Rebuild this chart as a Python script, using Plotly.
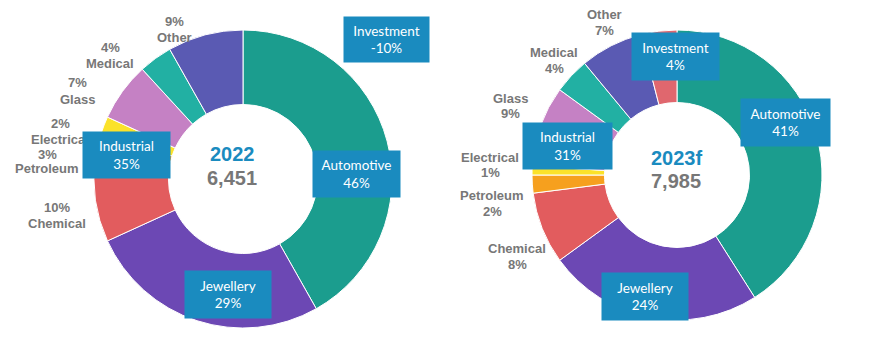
import plotly.graph_objects as go

W, H = 876, 351

# ---------------- data ----------------
labels_2022 = ["Automotive", "Jewellery", "Chemical", "Petroleum", "Electrical", "Glass", "Medical", "Other"]
values_2022 = [46, 29, 10, 3, 2, 7, 4, 9]
investment_2022 = -10
industrial_2022 = 35
total_2022 = "6,451"

labels_2023 = ["Automotive", "Jewellery", "Chemical", "Petroleum", "Electrical", "Glass", "Medical", "Other", "Investment"]
values_2023 = [41, 24, 8, 2, 1, 9, 4, 7, 4]
industrial_2023 = 31
total_2023 = "7,985"

colour_map = {
    "Automotive": "#1b9d8e",
    "Jewellery": "#6c48b4",
    "Chemical": "#e25c5e",
    "Petroleum": "#f6a01e",
    "Electrical": "#fbe22a",
    "Glass": "#c581c4",
    "Medical": "#22b0a3",
    "Other": "#5a5ab3",
    "Investment": "#e0676e",
}

BOX = "#1a8bbf"
GREY = "#777777"


def px(x):
    return x / W


def py(y):
    return 1 - y / H


def dom(cx, cy, r):
    return dict(x=[px(cx - r), px(cx + r)], y=[py(cy + r), py(cy - r)])


fig = go.Figure()
fig.add_trace(go.Pie(
    labels=labels_2022, values=values_2022, sort=False, direction="clockwise",
    hole=0.5, textinfo="none", hoverinfo="label+value",
    marker=dict(colors=[colour_map[l] for l in labels_2022], line=dict(color="white", width=1)),
    domain=dom(243, 179, 149), showlegend=False,
))
fig.add_trace(go.Pie(
    labels=labels_2023, values=values_2023, sort=False, direction="clockwise",
    hole=0.5, textinfo="none", hoverinfo="label+value",
    marker=dict(colors=[colour_map[l] for l in labels_2023], line=dict(color="white", width=1)),
    domain=dom(677, 175, 145), showlegend=False,
))

ann = []
LBL_FONT = dict(family="Liberation Sans, Arial", size=13, color=GREY)
COMMON = dict(xref="paper", yref="paper", showarrow=False, xanchor="center", yanchor="middle")


def label(x, y, text):
    ann.append(dict(x=px(x), y=py(y), text=f"<b>{text}</b>", font=LBL_FONT, **COMMON))


# outside grey labels (left: pct above name, right: name above pct)
v22 = dict(zip(labels_2022, values_2022))
v23 = dict(zip(labels_2023, values_2023))
# name: (x, y of first line, y of second line)
left_pos = {
    "Other": (174, 22, 38),
    "Medical": (110, 48, 64),
    "Glass": (77, 83, 99),
    "Electrical": (60, 124, 139),
    "Petroleum": (47, 154, 169),
    "Chemical": (57, 207, 223),
}
for name, (x, y1, y2) in left_pos.items():
    label(x, y1, f"{v22[name]}%")
    label(x, y2, name)
right_pos = {
    "Other": (604, 15, 31),
    "Medical": (554, 52, 68),
    "Glass": (510, 98, 114),
    "Electrical": (490, 157, 173),
    "Petroleum": (492, 195, 211),
    "Chemical": (517, 248, 264),
}
for name, (x, y1, y2) in right_pos.items():
    label(x, y1, name)
    label(x, y2, f"{v23[name]}%")

# blue boxes
boxes = [
    ("Investment", f"{investment_2022}%", 344, 17, 429, 62),
    ("Industrial", f"{industrial_2022}%", 83, 132, 170, 178),
    ("Automotive", f"{v22['Automotive']}%", 313, 151, 400, 197),
    ("Jewellery", f"{v22['Jewellery']}%", 185, 271, 271, 318),
    ("Investment", f"{v23['Investment']}%", 632, 33, 719, 80),
    ("Industrial", f"{industrial_2023}%", 523, 123, 612, 169),
    ("Automotive", f"{v23['Automotive']}%", 741, 99, 830, 146),
    ("Jewellery", f"{v23['Jewellery']}%", 602, 273, 688, 320),
]
for name, pct, x0, y0, x1, y1 in boxes:
    ann.append(dict(x=px((x0 + x1) / 2), y=py((y0 + y1) / 2), text=f"{name}<br>{pct}",
                    align="center", width=x1 - x0, height=y1 - y0, bgcolor=BOX, borderpad=0,
                    font=dict(family="Lato, Open Sans", size=13.5, color="white"), **COMMON))

# centre texts
centres = [("2022", total_2022, 232, 154, 178), ("2023f", total_2023, 676, 158, 181)]
for yr, tot, x, y1, y2 in centres:
    ann.append(dict(x=px(x), y=py(y1), text=f"<b>{yr}</b>",
                    font=dict(family="Liberation Sans, Arial", size=20, color=BOX), **COMMON))
    ann.append(dict(x=px(x), y=py(y2), text=f"<b>{tot}</b>",
                    font=dict(family="Liberation Sans, Arial", size=20, color=GREY), **COMMON))

fig.update_layout(
    width=W, height=H, margin=dict(l=0, r=0, t=0, b=0),
    paper_bgcolor="white", plot_bgcolor="white",
    annotations=ann,
)

fig.write_html("out.html")
